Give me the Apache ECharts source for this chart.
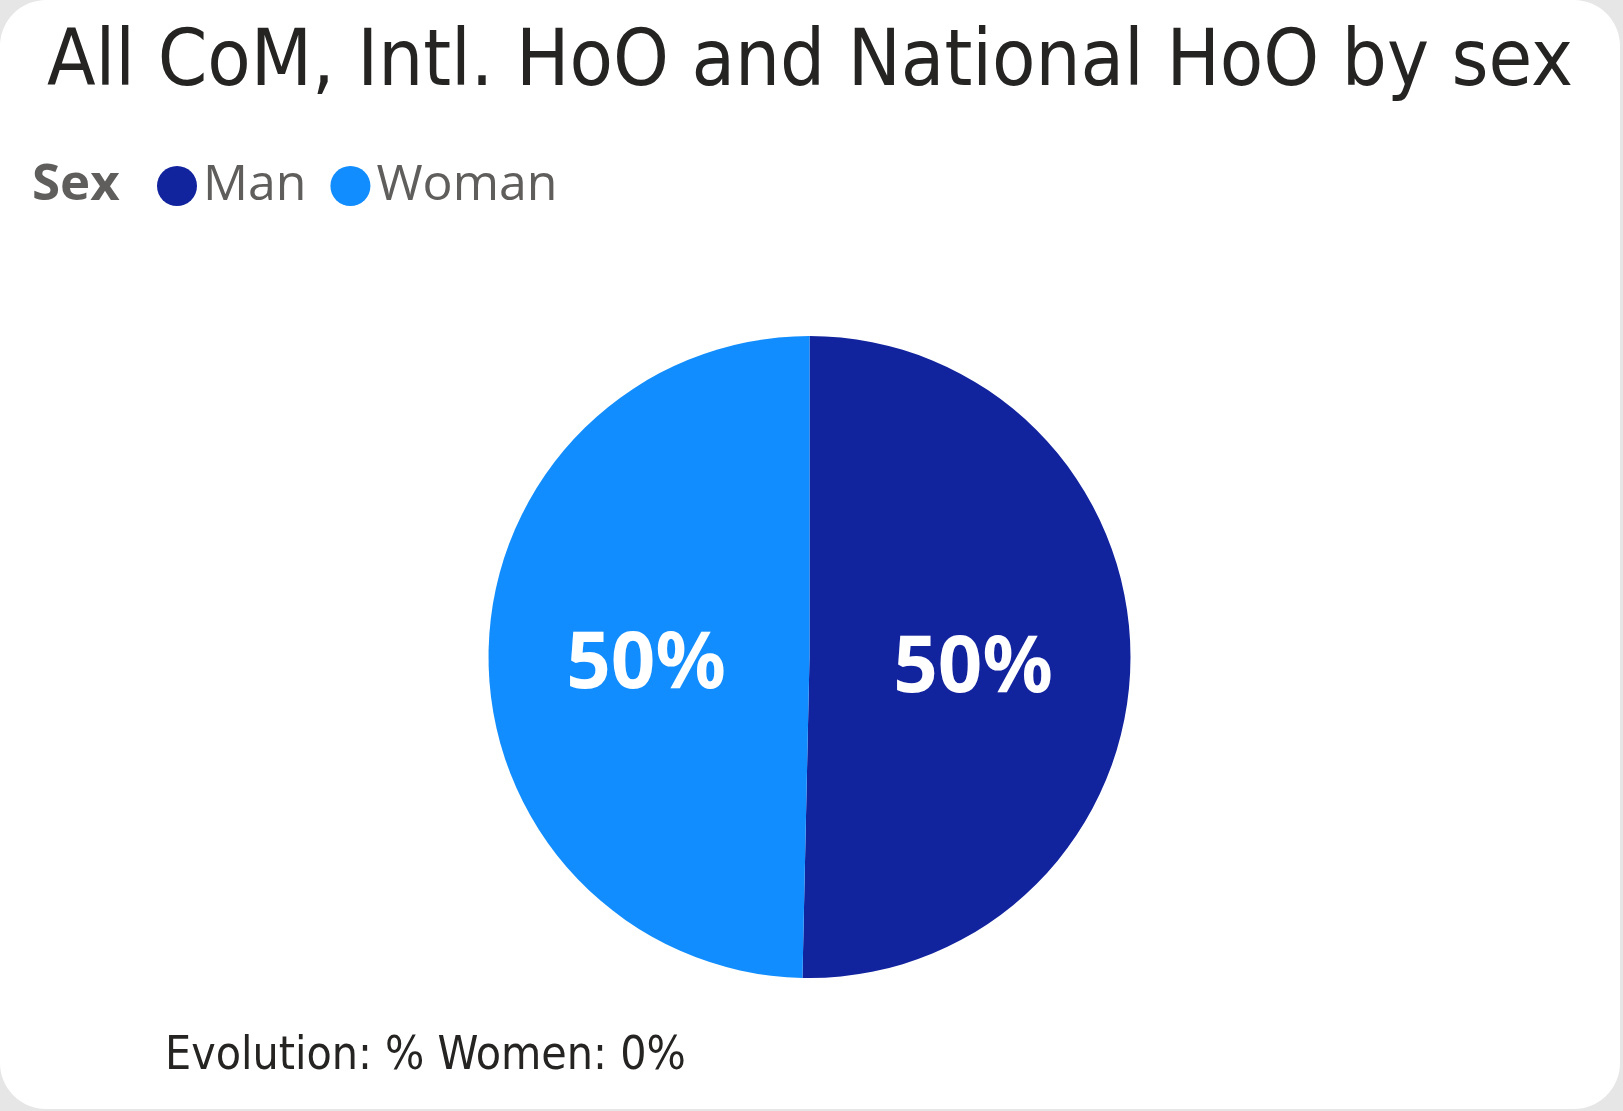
<!DOCTYPE html>
<html>
<head>
<meta charset="utf-8">
<script src="https://cdn.jsdelivr.net/npm/echarts@6/dist/echarts.min.js"></script>
<style>
  html, body { margin: 0; padding: 0; background: #e6e6e6; }
  #card {
    position: absolute; left: 0; top: 0;
    width: 1620px; height: 1109px;
    background: #ffffff; border-radius: 46px; overflow: hidden;
  }
  #main { width: 1620px; height: 1109px; }
</style>
</head>
<body>
<div id="card"><div id="main"></div></div>
<script>
// data
var categories = ['Man', 'Woman'];
var shares = [50.35, 49.65];
var colors = ['#12239E', '#118DFF'];
var titleText = 'All CoM, Intl. HoO and National HoO by sex';
var legendTitle = 'Sex';
var footnote = 'Evolution: % Women: 0%';

var dinLike = '"Liberation Sans Narrow", "DejaVu Sans Condensed", sans-serif';

var chart = echarts.init(document.getElementById('main'));

var option = {
  animation: false,
  title: {
    text: titleText,
    left: 'center',
    top: 20,
    textStyle: {
      fontFamily: dinLike,
      fontWeight: 'normal',
      fontSize: 79,
      color: '#252423'
    }
  },
  legend: {
    data: categories,
    left: 152,
    top: 156,
    icon: 'circle',
    itemWidth: 40,
    itemHeight: 40,
    itemGap: 24,
    textStyle: {
      fontFamily: '"Open Sans", sans-serif',
      fontSize: 50,
      color: '#605e5c',
      padding: [0, 0, 0, 1]
    }
  },
  graphic: [
    {
      type: 'text',
      left: 32,
      top: 160,
      style: {
        text: legendTitle,
        fontFamily: '"Open Sans", sans-serif',
        fontWeight: 'bold',
        fontSize: 51,
        fill: '#605e5c'
      }
    },
    {
      type: 'text',
      left: 165,
      top: 1034,
      style: {
        text: footnote,
        fontFamily: dinLike,
        fontSize: 46,
        fill: '#252423'
      }
    }
  ],
  series: [
    {
      type: 'pie',
      center: [809.5, 657],
      radius: [0, 321],
      startAngle: 90,
      clockwise: true,
      avoidLabelOverlap: false,
      itemStyle: { borderWidth: 0 },
      label: {
        show: true,
        position: 'inside',
        offset: [0, 11],
        formatter: function (p) { return Math.round(p.percent) + '%'; },
        fontFamily: '"Noto Sans", "Open Sans", sans-serif',
        fontWeight: 'bold',
        fontSize: 78,
        color: '#ffffff'
      },
      labelLine: { show: false },
      emphasis: { disabled: true },
      data: categories.map(function (c, i) {
        return { name: c, value: shares[i], itemStyle: { color: colors[i] } };
      })
    }
  ]
};

chart.setOption(option);
</script>
</body>
</html>
